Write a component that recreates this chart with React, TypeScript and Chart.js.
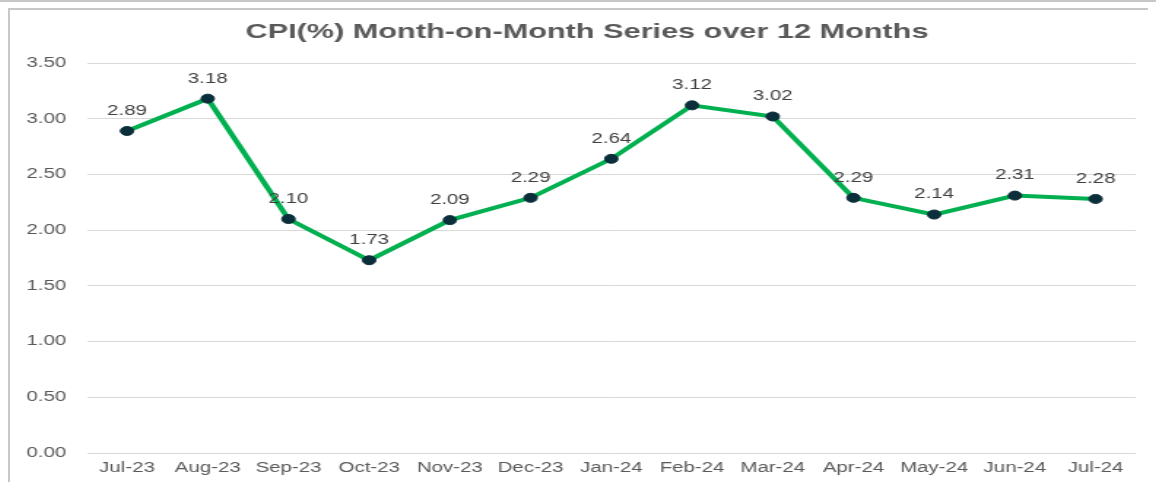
import React, { useEffect, useRef } from 'react';
import { Chart, registerables } from 'chart.js';

Chart.register(...registerables);

const months = ['Jul-23', 'Aug-23', 'Sep-23', 'Oct-23', 'Nov-23', 'Dec-23', 'Jan-24', 'Feb-24', 'Mar-24', 'Apr-24', 'May-24', 'Jun-24', 'Jul-24'];
const cpiValues = [2.89, 3.18, 2.10, 1.73, 2.09, 2.29, 2.64, 3.12, 3.02, 2.29, 2.14, 2.31, 2.28];
const yMin = 0;
const yMax = 3.5;
const yStep = 0.5;
const titleText = 'CPI(%) Month-on-Month Series over 12 Months';

const FONT = '"Liberation Sans", Arial, Helvetica, sans-serif';
const STRETCH = 1.46;
const LOGICAL_W = 785;
const LOGICAL_H = 472;

const pointLabels = {
  id: 'pointLabels',
  afterDatasetsDraw(chart: any) {
    const { ctx } = chart;
    const meta = chart.getDatasetMeta(0);
    ctx.save();
    ctx.font = `14px ${FONT}`;
    ctx.fillStyle = '#404040';
    ctx.textAlign = 'center';
    ctx.textBaseline = 'middle';
    meta.data.forEach((el: any, i: number) => {
      ctx.fillText(cpiValues[i].toFixed(2), el.x, el.y - 20);
    });
    ctx.restore();
  },
};

const titlePlugin = {
  id: 'customTitle',
  afterDraw(chart: any) {
    const { ctx } = chart;
    ctx.save();
    ctx.font = `bold 21px ${FONT}`;
    ctx.fillStyle = '#595959';
    ctx.textAlign = 'center';
    ctx.textBaseline = 'middle';
    ctx.fillText(titleText, chart.width / 2 + 2.7, 22.6);
    ctx.restore();
  },
};

export default function App() {
  const canvasRef = useRef<HTMLCanvasElement | null>(null);

  useEffect(() => {
    document.documentElement.style.overflow = 'hidden';
    const canvas = canvasRef.current;
    if (!canvas) return;
    const chart = new Chart(canvas, {
      type: 'line',
      data: {
        labels: months,
        datasets: [
          {
            data: cpiValues,
            borderColor: '#00B050',
            borderWidth: 4,
            pointBackgroundColor: '#0b2e3b',
            pointBorderColor: '#0b2e3b',
            pointRadius: 4.5,
            pointBorderWidth: 1,
            tension: 0,
          },
        ],
      },
      options: {
        animation: false,
        responsive: false,
        devicePixelRatio: 1,
        layout: { padding: { left: 0, right: 13.8, top: 53, bottom: 0 } },
        plugins: {
          legend: { display: false },
          tooltip: { enabled: false },
          title: { display: false },
        },
        scales: {
          x: {
            offset: true,
            grid: { display: false, drawTicks: false },
            border: { display: false },
            ticks: {
              color: '#595959',
              font: { family: FONT, size: 14 },
              padding: 7,
              maxRotation: 0,
              autoSkip: false,
            },
            afterFit(scale: any) {
              scale.height = 29;
            },
          },
          y: {
            min: yMin,
            max: yMax,
            grid: { color: '#d9d9d9', lineWidth: 1, drawTicks: false },
            border: { display: false },
            ticks: {
              stepSize: yStep,
              color: '#595959',
              font: { family: FONT, size: 14 },
              padding: 14,
              callback: (v: any) => Number(v).toFixed(2),
            },
            afterFit(scale: any) {
              scale.width = 52.5;
            },
          },
        },
      },
      plugins: [pointLabels, titlePlugin],
    });
    return () => chart.destroy();
  }, []);

  return (
    <>
      <div style={{ position: 'fixed', top: 0, left: 0, right: 0, height: 2, background: '#c8c8c8' }} />
      <div
        style={{
          width: 1148,
          height: 474,
          boxSizing: 'border-box',
          borderLeft: '2px solid #c8c8c8',
          borderTop: '2px solid #c8c8c8',
          overflow: 'hidden',
          background: '#fff',
        }}
      >
        <div
          style={{
            width: LOGICAL_W,
            height: LOGICAL_H,
            transform: `scaleX(${STRETCH})`,
            transformOrigin: '0 0',
          }}
        >
          <canvas ref={canvasRef} width={LOGICAL_W} height={LOGICAL_H} />
        </div>
      </div>
    </>
  );
}
